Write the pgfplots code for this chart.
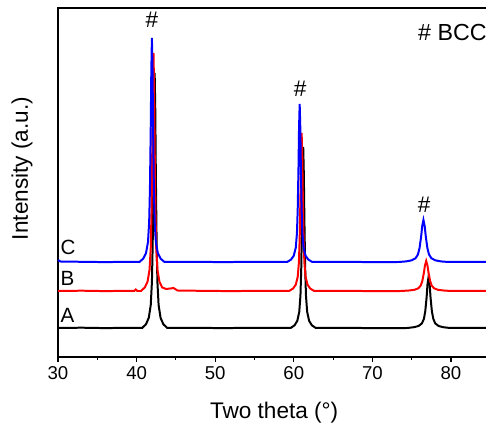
\documentclass[border=0pt]{standalone}
\usepackage{fontspec}
\setmainfont{Liberation Sans}
\usepackage{pgfplots}
\pgfplotsset{compat=1.18}
\begin{document}
\begin{tikzpicture}
\begin{axis}[
  scale only axis,
  width=324.2bp, height=261.75bp,
  xmin=30, xmax=85, ymin=0, ymax=349,
  axis line style={line width=0.8pt},
  clip=false,
  xtick={30,40,50,60,70,80},
  xtick pos=left,
  minor x tick num=1,
  ytick=\empty,
  tick align=outside,
  major tick length=3.5bp, minor tick length=2.2bp,
  tick style={line width=0.8pt, black},
  /pgf/number format/assume math mode=true,
  tick label style={font=\fontsize{14}{16}\selectfont},
  xlabel={Two theta (°)},
  ylabel={Intensity (a.u.)},
  every axis x label/.style={at={(axis description cs:0.50,-0.16)}, anchor=center, font=\fontsize{17}{19}\selectfont},
  every axis y label/.style={at={(axis description cs:-0.083,0.54)}, rotate=90, anchor=center, font=\fontsize{17}{19}\selectfont},
]
% A (black)
\addplot[black, line width=1.5pt] coordinates {
(30,29) (33,29.3) (36,28.9) (39,29.2) (40.7,29) (41.2,32.8) (41.55,39.2) (41.8,52) (41.95,74.9) (42.05,113.2) (42.15,182) (42.22,245.8) (42.3,284) (42.38,245.8) (42.45,182) (42.55,113.2) (42.65,74.9) (42.8,52) (43.05,39.2) (43.4,32.8) (43.9,29)
(47,29.2) (51,28.9) (55,29.2) (59.6,29) (60.1,31.7) (60.45,36.2) (60.7,45.3) (60.85,61.6) (60.95,88.7) (61.05,137.6) (61.12,182.9) (61.2,210) (61.28,182.9) (61.35,137.6) (61.45,88.7) (61.55,61.6) (61.7,45.3) (61.95,36.2) (62.3,31.7) (62.8,29)
(66,29.2) (70,28.9) (74.43,29) (75.28,29.8) (75.88,31) (76.3,33.6) (76.56,38.2) (76.73,45.8) (76.9,59.6) (77.01,72.4) (77.15,80) (77.29,72.4) (77.4,59.6) (77.57,45.8) (77.75,38.2) (78,33.6) (78.43,31) (79.02,29.8) (79.87,29) (82,29.2) (85,29)
};
% B (red)
\addplot[red, line width=1.5pt] coordinates {
(30,66) (33,66.3) (36,65.9) (39,66.2) (39.7,66) (39.9,67.5) (40.1,66) (40.55,66) (41.05,69.6) (41.4,75.5) (41.65,87.4) (41.8,108.8) (41.9,144.5) (42,208.8) (42.07,268.3) (42.15,304) (42.23,268.3) (42.3,208.8) (42.4,144.5) (42.5,108.8) (42.65,87.4) (42.9,75.5) (43.25,69.6) (43.75,68) (44.3,68.5) (44.7,69) (45.2,66.5)
(48,66.2) (52,65.9) (56,66.2) (59.4,66) (59.9,68.4) (60.25,72.3) (60.5,80.2) (60.65,94.4) (60.75,118.1) (60.85,160.8) (60.92,200.3) (61,224) (61.08,200.3) (61.15,160.8) (61.25,118.1) (61.35,94.4) (61.5,80.2) (61.75,72.3) (62.1,68.4) (62.6,66)
(66,66.2) (70,65.9) (73.65,66) (74.65,66.5) (75.35,67.2) (75.85,68.7) (76.15,71.4) (76.35,75.9) (76.55,84) (76.69,91.5) (76.85,96) (77.01,91.5) (77.15,84) (77.35,75.9) (77.55,71.4) (77.85,68.7) (78.35,67.2) (79.05,66.5) (80.05,66) (82,66.2) (85,66)
};
% C (blue)
\addplot[blue, line width=1.5pt] coordinates {
(30,97) (30.3,95.5) (33,95.2) (36,94.9) (39,95.2) (40.35,95) (40.85,98.4) (41.2,104) (41.45,115) (41.6,135) (41.7,169) (41.8,229) (41.87,285) (41.95,319) (42.03,285) (42.1,229) (42.2,169) (42.3,135) (42.45,115) (42.7,104) (43.05,98.4) (43.55,95)
(47,95.2) (51,94.9) (55,95.2) (59.15,95) (59.65,97.4) (60,101.3) (60.25,109.2) (60.4,123.4) (60.5,147.1) (60.6,189.8) (60.67,229.3) (60.75,253) (60.83,229.3) (60.9,189.8) (61,147.1) (61.1,123.4) (61.25,109.2) (61.5,101.3) (61.85,97.4) (62.35,95)
(66,95.2) (70,94.9) (73.3,95) (74.3,95.6) (75,96.7) (75.5,98.8) (75.8,102.6) (76,108.9) (76.2,120.2) (76.34,130.7) (76.5,137) (76.66,130.7) (76.8,120.2) (77,108.9) (77.2,102.6) (77.5,98.8) (78,96.7) (78.7,95.6) (79.7,95) (82,95.2) (85,95)
};
\node[font=\fontsize{17}{19}\selectfont] at (axis cs:41.95,337) {\#};
\node[font=\fontsize{17}{19}\selectfont] at (axis cs:60.8,268) {\#};
\node[font=\fontsize{17}{19}\selectfont] at (axis cs:76.6,152) {\#};
\node[font=\fontsize{17.5}{19}\selectfont, anchor=west, inner sep=0pt] at (axis cs:75.8,325) {\# BCC};
\node[font=\fontsize{15.5}{17}\selectfont, anchor=west, inner sep=0pt] at (axis cs:30.3,110) {C};
\node[font=\fontsize{15.5}{17}\selectfont, anchor=west, inner sep=0pt] at (axis cs:30.3,79) {B};
\node[font=\fontsize{15.5}{17}\selectfont, anchor=west, inner sep=0pt] at (axis cs:30.3,42) {A};
\end{axis}
\pgfresetboundingbox
\path[use as bounding box] (current axis.south west) ++(-43.5bp,-53.25bp) rectangle ([shift={(321bp,267.75bp)}]current axis.south west);
\end{tikzpicture}
\end{document}
